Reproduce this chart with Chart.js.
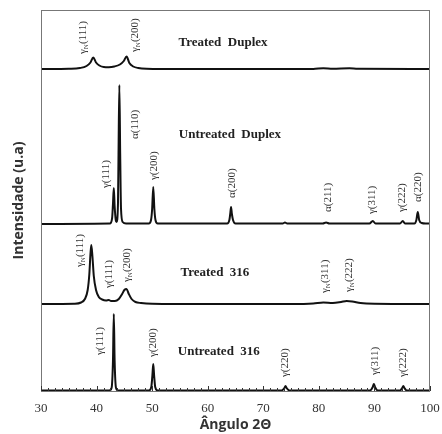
<!DOCTYPE html>
<html>
<head>
<meta charset="utf-8">
<script src="https://cdn.jsdelivr.net/npm/chart.js@4"></script>
<style>
  body { margin: 0; background: #fff; }
  #wrap { width: 442px; height: 434px; position: relative; }
</style>
</head>
<body>
<div id="wrap"><canvas id="xrd"></canvas></div>
<script>
// Difratogramas (2θ, intensidade relativa à linha de base de cada amostra)
const untreated316 = [
  [30, 0.5], [42.3, 0.5], [42.7, 3], [42.95, 30], [43.1, 77], [43.25, 30], [43.5, 3], [43.9, 0.5],
  [49.4, 0.5], [49.85, 4], [50.05, 16], [50.2, 27], [50.35, 16], [50.55, 4], [51, 0.5],
  [73.3, 0.5], [73.8, 3], [74.0, 5], [74.2, 3], [74.7, 0.5],
  [89.2, 0.5], [89.7, 4], [89.9, 7], [90.1, 4], [90.6, 0.5],
  [94.6, 0.5], [95.0, 3], [95.2, 5], [95.4, 3], [95.8, 0.5], [100, 0.5]
];
const treated316 = [
  [30, 0], [36, 0.3], [37.2, 1.5], [37.9, 5], [38.4, 14], [38.7, 30], [38.9, 50], [39.05, 59],
  [39.25, 48], [39.5, 28], [39.9, 14], [40.4, 7], [41, 4.5], [41.7, 3.5], [42.2, 4], [42.6, 3],
  [43.3, 3], [44.0, 5], [44.6, 10], [45.0, 14], [45.4, 15], [45.8, 10], [46.3, 5], [47, 2],
  [48, 1], [50, 0.3], [60, 0], [75, 0], [79, 0.5], [80.8, 1.5], [82.5, 1], [84, 2], [85, 3],
  [86, 2.5], [87.5, 1], [90, 0.3], [100, 0]
];
const untreatedDuplex = [
  [30, 0], [42.4, 0.5], [42.8, 6], [42.95, 20], [43.1, 36], [43.25, 18], [43.45, 4], [43.6, 2],
  [43.85, 20], [43.95, 70], [44.1, 139], [44.25, 70], [44.4, 15], [44.7, 2], [45.3, 0.5],
  [49.4, 0.5], [49.8, 4], [50.0, 15], [50.2, 37], [50.4, 15], [50.6, 4], [51.0, 0.5],
  [63.5, 0.5], [63.9, 4], [64.05, 10], [64.2, 17], [64.35, 10], [64.55, 4], [65, 0.5],
  [73.5, 0.5], [73.9, 1.5], [74.3, 0.5], [80.7, 0.5], [81.3, 1.5], [81.9, 0.5],
  [89.1, 0.5], [89.7, 3], [90.2, 0.5], [94.6, 0.5], [95.1, 3], [95.5, 0.5],
  [97.2, 0.5], [97.55, 4], [97.8, 12], [98.05, 4], [98.5, 1], [99.2, 0.5], [100, 0.5]
];
const treatedDuplex = [
  [30, 0], [35, 0.3], [37, 1], [38.2, 3], [38.9, 6.5], [39.4, 11.6], [39.9, 6.5], [40.5, 3.5],
  [41.3, 2], [42.2, 1.8], [43.2, 2.5], [44.2, 4.5], [44.9, 8], [45.4, 12.6], [45.9, 6],
  [46.6, 2.5], [47.5, 1], [49, 0.3], [55, 0], [79, 0], [80.8, 0.8], [82.5, 0.3], [85.5, 0.8],
  [87, 0.2], [100, 0]
];

// deslocamento vertical de cada curva
const offsets = [0, 87, 167, 322];
const patterns = [untreated316, treated316, untreatedDuplex, treatedDuplex];

// nomes das amostras: [texto, 2θ central, altura]
const sampleNames = [
  ['Untreated  316', 62.0, 39],
  ['Treated  316', 61.3, 118],
  ['Untreated  Duplex', 64.0, 256],
  ['Treated  Duplex', 62.75, 348]
];

// índices dos picos: [fase, subscrito, plano, 2θ, altura da base do texto]
const peakLabels = [
  ['γ', '', '(111)', 40.6, 36], ['γ', '', '(200)', 50.2, 34], ['γ', '', '(220)', 74.0, 14],
  ['γ', '', '(311)', 90.1, 16], ['γ', '', '(222)', 95.2, 14],
  ['γ', 'N', '(111)', 37.0, 124], ['γ', '', '(111)', 42.3, 103], ['γ', 'N', '(200)', 45.5, 109],
  ['γ', 'N', '(311)', 81.1, 98], ['γ', 'N', '(222)', 85.5, 99],
  ['γ', '', '(111)', 41.7, 203], ['α', '', '(110)', 47.0, 252], ['γ', '', '(200)', 50.3, 211],
  ['α', '', '(200)', 64.3, 193], ['α', '', '(211)', 81.6, 179], ['γ', '', '(311)', 89.6, 177],
  ['γ', '', '(222)', 95.0, 179], ['α', '', '(220)', 97.8, 189],
  ['γ', 'N', '(111)', 37.6, 337], ['γ', 'N', '(200)', 47.0, 339]
];

const xTicks = [30, 40, 50, 60, 70, 80, 90, 100];

const serif = "'Liberation Serif', 'Times New Roman', serif";

const datasets = patterns.map((p, i) => ({
  data: p.map(pt => ({ x: pt[0], y: pt[1] + offsets[i] })),
  borderColor: '#111',
  borderWidth: 2,
  pointRadius: 0,
  cubicInterpolationMode: 'monotone',
  fill: false
}));

// moldura, marcas internas do eixo x e textos das curvas
const annotations = {
  id: 'annotations',
  afterDatasetsDraw(chart) {
    const { ctx, chartArea: a, scales: { x, y } } = chart;
    ctx.save();

    ctx.strokeStyle = '#777';
    ctx.lineWidth = 1;
    ctx.strokeRect(a.left + 0.5, a.top + 0.5, a.right - a.left - 1, a.bottom - a.top);

    ctx.strokeStyle = '#333';
    for (let v = 30; v <= 100; v += 1.25) {
      const px = Math.round(x.getPixelForValue(v)) + 0.5;
      const len = (v % 10 === 0) ? 5 : 3;
      ctx.beginPath();
      ctx.moveTo(px, a.bottom);
      ctx.lineTo(px, a.bottom - len);
      ctx.stroke();
    }

    ctx.fillStyle = '#222';
    ctx.textAlign = 'center';
    ctx.textBaseline = 'middle';
    ctx.font = 'bold 13px ' + serif;
    sampleNames.forEach(([t, xv, yv]) => {
      ctx.fillText(t, x.getPixelForValue(xv), y.getPixelForValue(yv));
    });

    ctx.fillStyle = '#333';
    ctx.textAlign = 'left';
    peakLabels.forEach(([phase, sub, plane, xv, yv]) => {
      ctx.save();
      ctx.translate(x.getPixelForValue(xv), y.getPixelForValue(yv));
      ctx.rotate(-Math.PI / 2);
      let cx = 0;
      ctx.font = '11px ' + serif;
      ctx.fillText(phase, cx, 0);
      cx += ctx.measureText(phase).width;
      if (sub) {
        ctx.font = '7px ' + serif;
        ctx.fillText(sub, cx, 3);
        cx += ctx.measureText(sub).width;
      }
      ctx.font = '11px ' + serif;
      ctx.fillText(plane, cx, 0);
      ctx.restore();
    });

    ctx.restore();
  }
};

new Chart(document.getElementById('xrd'), {
  type: 'line',
  data: { datasets },
  options: {
    responsive: true,
    maintainAspectRatio: false,
    animation: false,
    layout: { padding: { left: 0, right: 12, top: 10, bottom: 0 } },
    plugins: { legend: { display: false }, tooltip: { enabled: false } },
    scales: {
      x: {
        type: 'linear',
        min: 30,
        max: 100,
        afterFit(scale) {
          scale.height = 43;
          scale.paddingLeft = 0;
          scale.paddingRight = 0;
        },
        afterBuildTicks(scale) { scale.ticks = xTicks.map(v => ({ value: v })); },
        grid: { display: false, drawTicks: false },
        border: { display: false },
        ticks: {
          padding: 10,
          color: '#333',
          font: { family: serif, size: 13 }
        },
        title: {
          display: true,
          text: 'Ângulo 2Θ',
          color: '#333',
          padding: { top: 0, bottom: 1 },
          font: { family: "'Open Sans', sans-serif", size: 14, weight: 'bold' }
        }
      },
      y: {
        min: 0,
        max: 381,
        afterFit(scale) { scale.width = 41; },
        grid: { display: false, drawTicks: false },
        border: { display: false },
        ticks: { display: false },
        title: {
          display: true,
          text: 'Intensidade (u.a)',
          color: '#333',
          padding: { top: 11, bottom: 4 },
          font: { family: "'Open Sans', sans-serif", size: 14, weight: 'bold' }
        }
      }
    }
  },
  plugins: [annotations]
});
</script>
</body>
</html>
